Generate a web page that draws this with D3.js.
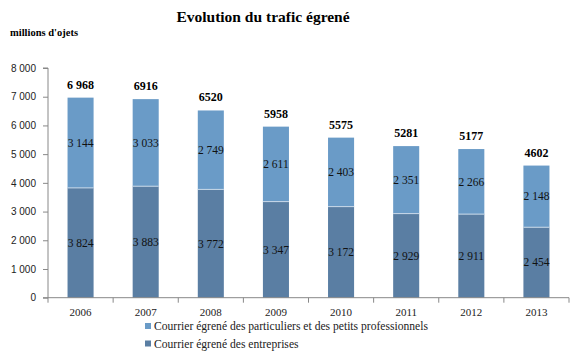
<!DOCTYPE html>
<html><head><meta charset="utf-8">
<script src="https://cdn.jsdelivr.net/npm/d3@7"></script>
<style>body{margin:0;background:#fff}svg{display:block}</style>
</head><body>
<script>
const years = ["2006","2007","2008","2009","2010","2011","2012","2013"];
const entreprises = [3824,3883,3772,3347,3172,2929,2911,2454];
const particuliers = [3144,3033,2749,2611,2403,2351,2266,2148];
const totalLabels = ["6 968","6916","6520","5958","5575","5281","5177","4602"];
const entreprisesLabels = ["3 824","3 883","3 772","3 347","3 172","2 929","2 911","2 454"];
const particuliersLabels = ["3 144","3 033","2 749","2 611","2 403","2 351","2 266","2 148"];
const yTicks = [0,1000,2000,3000,4000,5000,6000,7000,8000];
const seriesNames = ["Courrier égrené des particuliers et des petits professionnels","Courrier égrené des entreprises"];
const colors = ["#6a9bc7","#5a7ea3"];

const W=575,H=360;
const svg=d3.select("body").append("svg").attr("width",W).attr("height",H);
const x=d3.scaleBand().domain(years).range([48,569]).paddingInner(0.6).paddingOuter(0.3);
const y=d3.scaleLinear().domain([0,8000]).range([297.7,68]);
const serif="Liberation Serif, DejaVu Serif, serif";
const sans="Liberation Sans, Arial, sans-serif";

svg.append("text").attr("x",263).attr("y",22).attr("text-anchor","middle")
  .style("font-family",serif).attr("font-weight","bold").attr("font-size",15.5).text("Evolution du trafic égrené");
svg.append("text").attr("x",10).attr("y",36).style("font-family",serif).attr("font-weight","bold")
  .attr("font-size",10.5).text("millions d'ojets");

// bars
const g=svg.append("g");
years.forEach((yr,i)=>{
  const e=entreprises[i],p=particuliers[i];
  g.append("rect").attr("x",x(yr)).attr("width",x.bandwidth()).attr("y",y(e)).attr("height",y(0)-y(e)).attr("fill",colors[1]);
  g.append("rect").attr("x",x(yr)).attr("width",x.bandwidth()).attr("y",y(e+p)).attr("height",y(e)-y(e+p)).attr("fill",colors[0]);
  g.append("line").attr("x1",x(yr)).attr("x2",x(yr)+x.bandwidth()).attr("y1",y(e)).attr("y2",y(e)).attr("stroke","#c8d8e8").attr("stroke-width",1);
  const cx=x(yr)+x.bandwidth()/2;
  g.append("text").attr("x",cx).attr("y",(y(0)+y(e))/2+4).attr("text-anchor","middle").style("font-family",serif).attr("font-size",11.5).attr("fill","#111").text(entreprisesLabels[i]);
  g.append("text").attr("x",cx).attr("y",(y(e)+y(e+p))/2+4).attr("text-anchor","middle").style("font-family",serif).attr("font-size",11.5).attr("fill","#111").text(particuliersLabels[i]);
  g.append("text").attr("x",cx).attr("y",y(e+p)-9).attr("text-anchor","middle").style("font-family",serif).attr("font-weight","bold").attr("font-size",12).attr("fill","#000").text(totalLabels[i]);
});

// y axis
const ya=svg.append("g").attr("transform","translate(48,0)").call(d3.axisLeft(y).tickValues(yTicks).tickSize(5).tickFormat(d=>d3.format(",")(d).replace(/,/g," ")));
ya.select(".domain").attr("stroke","#888").attr("d","M-5,68H0V297.7H-5");
ya.selectAll(".tick line").attr("stroke","#888");
ya.selectAll(".tick text").style("font-family",sans).attr("font-size",10).attr("fill","#222").attr("x",-12);

// x axis
const xa=svg.append("g").attr("transform","translate(0,297.7)");
xa.append("line").attr("x1",48).attr("x2",569).attr("stroke","#888");
const step=x.step();
d3.range(years.length+1).forEach(i=>{
  const bx=x(years[0])-x.step()*x.paddingOuter()-0*step + i*step - (x.step()*x.paddingInner())*0;
  const px=48+i*(569-48)/years.length;
  xa.append("line").attr("x1",px).attr("x2",px).attr("y1",0).attr("y2",5).attr("stroke","#888");
});
years.forEach(yr=>{
  xa.append("text").attr("x",x(yr)+x.bandwidth()/2).attr("y",18.5).attr("text-anchor","middle").style("font-family",serif).attr("font-size",11).attr("fill","#222").text(yr);
});

// legend
const lg=svg.append("g");
seriesNames.forEach((n,i)=>{
  const yy=330+i*17.5;
  lg.append("rect").attr("x",145).attr("y",yy-7).attr("width",6).attr("height",6).attr("fill",colors[i]);
  lg.append("text").attr("x",154).attr("y",yy).style("font-family",serif).attr("font-size",11.6).attr("fill","#222").text(n);
});
</script>
</body></html>
